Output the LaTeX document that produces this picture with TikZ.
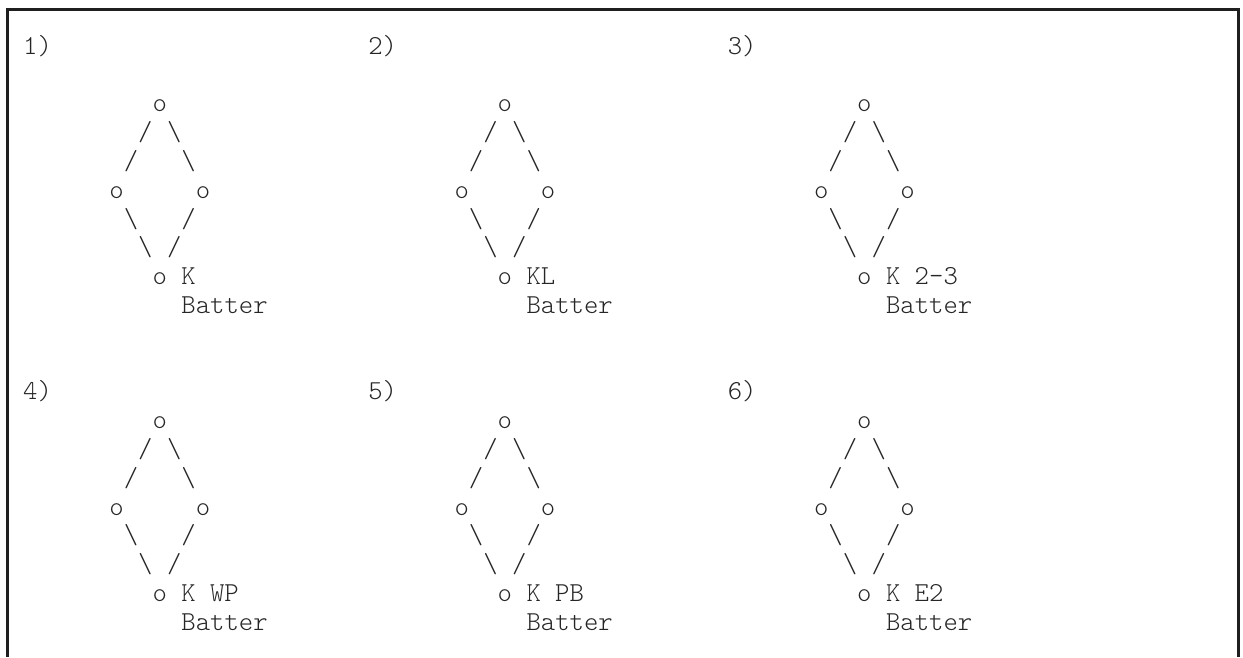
\documentclass[tikz,border=0pt]{standalone}
\begin{document}
\begin{tikzpicture}[x=1pt,y=-1pt,
  txt/.style={anchor=base west, inner sep=0pt, outer sep=0pt, text=black!85,
    font={\fontsize{27.39pt}{28.8pt}\ttfamily\fontseries{l}\selectfont}},
  frameline/.style={line width=3pt, draw=black!88, line join=miter}]
\useasboundingbox (0,0) rectangle (1243,657);
\fill[white] (0,0) rectangle (1243,657);
% frame (open at the bottom)
\coordinate (fbl) at (7.5,657);
\coordinate (ftl) at (7.5,9.5);
\coordinate (ftr) at (1238.5,9.5);
\coordinate (fbr) at (1238.5,657);
\draw[frameline] (fbl) -- (ftl) -- (ftr) -- (fbr);
% six diamonds on a monospaced grid
\foreach \i/\bc/\lr/\dr/\lab in {1/0/0/2/K, 2/24/0/2/KL, 3/49/0/2/K 2-3, 4/0/12/13/K WP, 5/24/12/13/K PB, 6/49/12/13/K E2}{
  \node[txt] (n\i) at ({23.2+(\bc)*14.38},{54.2+28.8*(\lr)}) {\i)};
  \node[txt] (t\i) at ({23.2+(\bc+9)*14.38},{54.2+28.8*(\dr)}) {o};
  \node[txt] (a\i) at ({23.2+(\bc+8)*14.38},{54.2+28.8*(\dr+1)}) {/};
  \node[txt] (b\i) at ({23.2+(\bc+10)*14.38},{54.2+28.8*(\dr+1)}) {\textbackslash};
  \node[txt] (c\i) at ({23.2+(\bc+7)*14.38},{54.2+28.8*(\dr+2)}) {/};
  \node[txt] (d\i) at ({23.2+(\bc+11)*14.38},{54.2+28.8*(\dr+2)}) {\textbackslash};
  \node[txt] (l\i) at ({23.2+(\bc+6)*14.38},{54.2+28.8*(\dr+3)}) {o};
  \node[txt] (r\i) at ({23.2+(\bc+12)*14.38},{54.2+28.8*(\dr+3)}) {o};
  \node[txt] (e\i) at ({23.2+(\bc+7)*14.38},{54.2+28.8*(\dr+4)}) {\textbackslash};
  \node[txt] (f\i) at ({23.2+(\bc+11)*14.38},{54.2+28.8*(\dr+4)}) {/};
  \node[txt] (g\i) at ({23.2+(\bc+8)*14.38},{54.2+28.8*(\dr+5)}) {\textbackslash};
  \node[txt] (h\i) at ({23.2+(\bc+10)*14.38},{54.2+28.8*(\dr+5)}) {/};
  \node[txt] (o\i) at ({23.2+(\bc+9)*14.38},{54.2+28.8*(\dr+6)}) {o};
  \node[txt] (k\i) at ({23.2+(\bc+11)*14.38},{54.2+28.8*(\dr+6)}) {\lab};
  \node[txt] (p\i) at ({23.2+(\bc+11)*14.38},{54.2+28.8*(\dr+7)}) {Batter};
}
\end{tikzpicture}
\end{document}
